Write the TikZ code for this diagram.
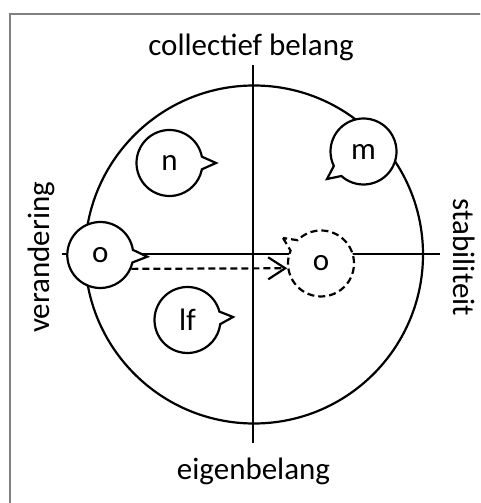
\documentclass[tikz,border=0pt]{standalone}
\usepackage{fontspec}
\setmainfont{Carlito}
\usetikzlibrary{shapes.callouts,arrows.meta}
\begin{document}
\begin{tikzpicture}[x=1pt,y=1pt,>={Straight Barb[length=17pt,width=22pt]},
	wolk/.style={ellipse callout,draw,fill=white,line width=2.2pt,minimum width=66pt,minimum height=66pt,inner sep=0pt,callout pointer arc=22,font=\fontsize{31}{36}\selectfont},
	as/.style={font=\fontsize{31}{36}\selectfont,inner sep=0pt}]
		\useasboundingbox (0,0) rectangle (480,503);
		\clip (0,0) rectangle (480,503);
		\draw[gray,line width=1.3pt] (10,489) rectangle (500,-20);
		\node[as] (cb) at (251,456) {collectief belang};
		\node[as] (eb) at (253.5,31.5) {eigenbelang};
		\node[as,rotate=90] (ver) at (41.5,245.5) {verandering};
		\node[as,rotate=-90] (stab) at (464,245.5) {stabiliteit};
		\node[circle,draw,line width=2.2pt,minimum size=338pt,inner sep=0pt,outer sep=0pt] (veld) at (254,248.5) {};
		\coordinate (boven) at (253,438);
		\coordinate (onder) at (253,60);
		\coordinate (links) at (62,249);
		\coordinate (rechts) at (440,249);
		\draw[line width=2.2pt] (boven) -- (onder);
		\draw[line width=2.2pt] (links) -- (rechts);
		\node[wolk,callout absolute pointer={(216,340)}] (n) at (169.5,340) {n};
		\node[wolk,callout absolute pointer={(327,324)}] (m) at (363.5,351.5) {m};
		\node[wolk,callout absolute pointer={(233,186)}] (lf) at (187.5,183) {lf};
		\node[wolk,callout absolute pointer={(147.3,246.3)}] (ol) at (100.3,248) {o};
		\node[wolk,dash pattern=on 7pt off 4pt,callout absolute pointer={(283,265)}] (od) at (321,239.5) {o};
		\draw[->,line width=2.2pt,dash pattern=on 7pt off 4pt] (ol.-24) -- (od.188);
\end{tikzpicture}
\end{document}
